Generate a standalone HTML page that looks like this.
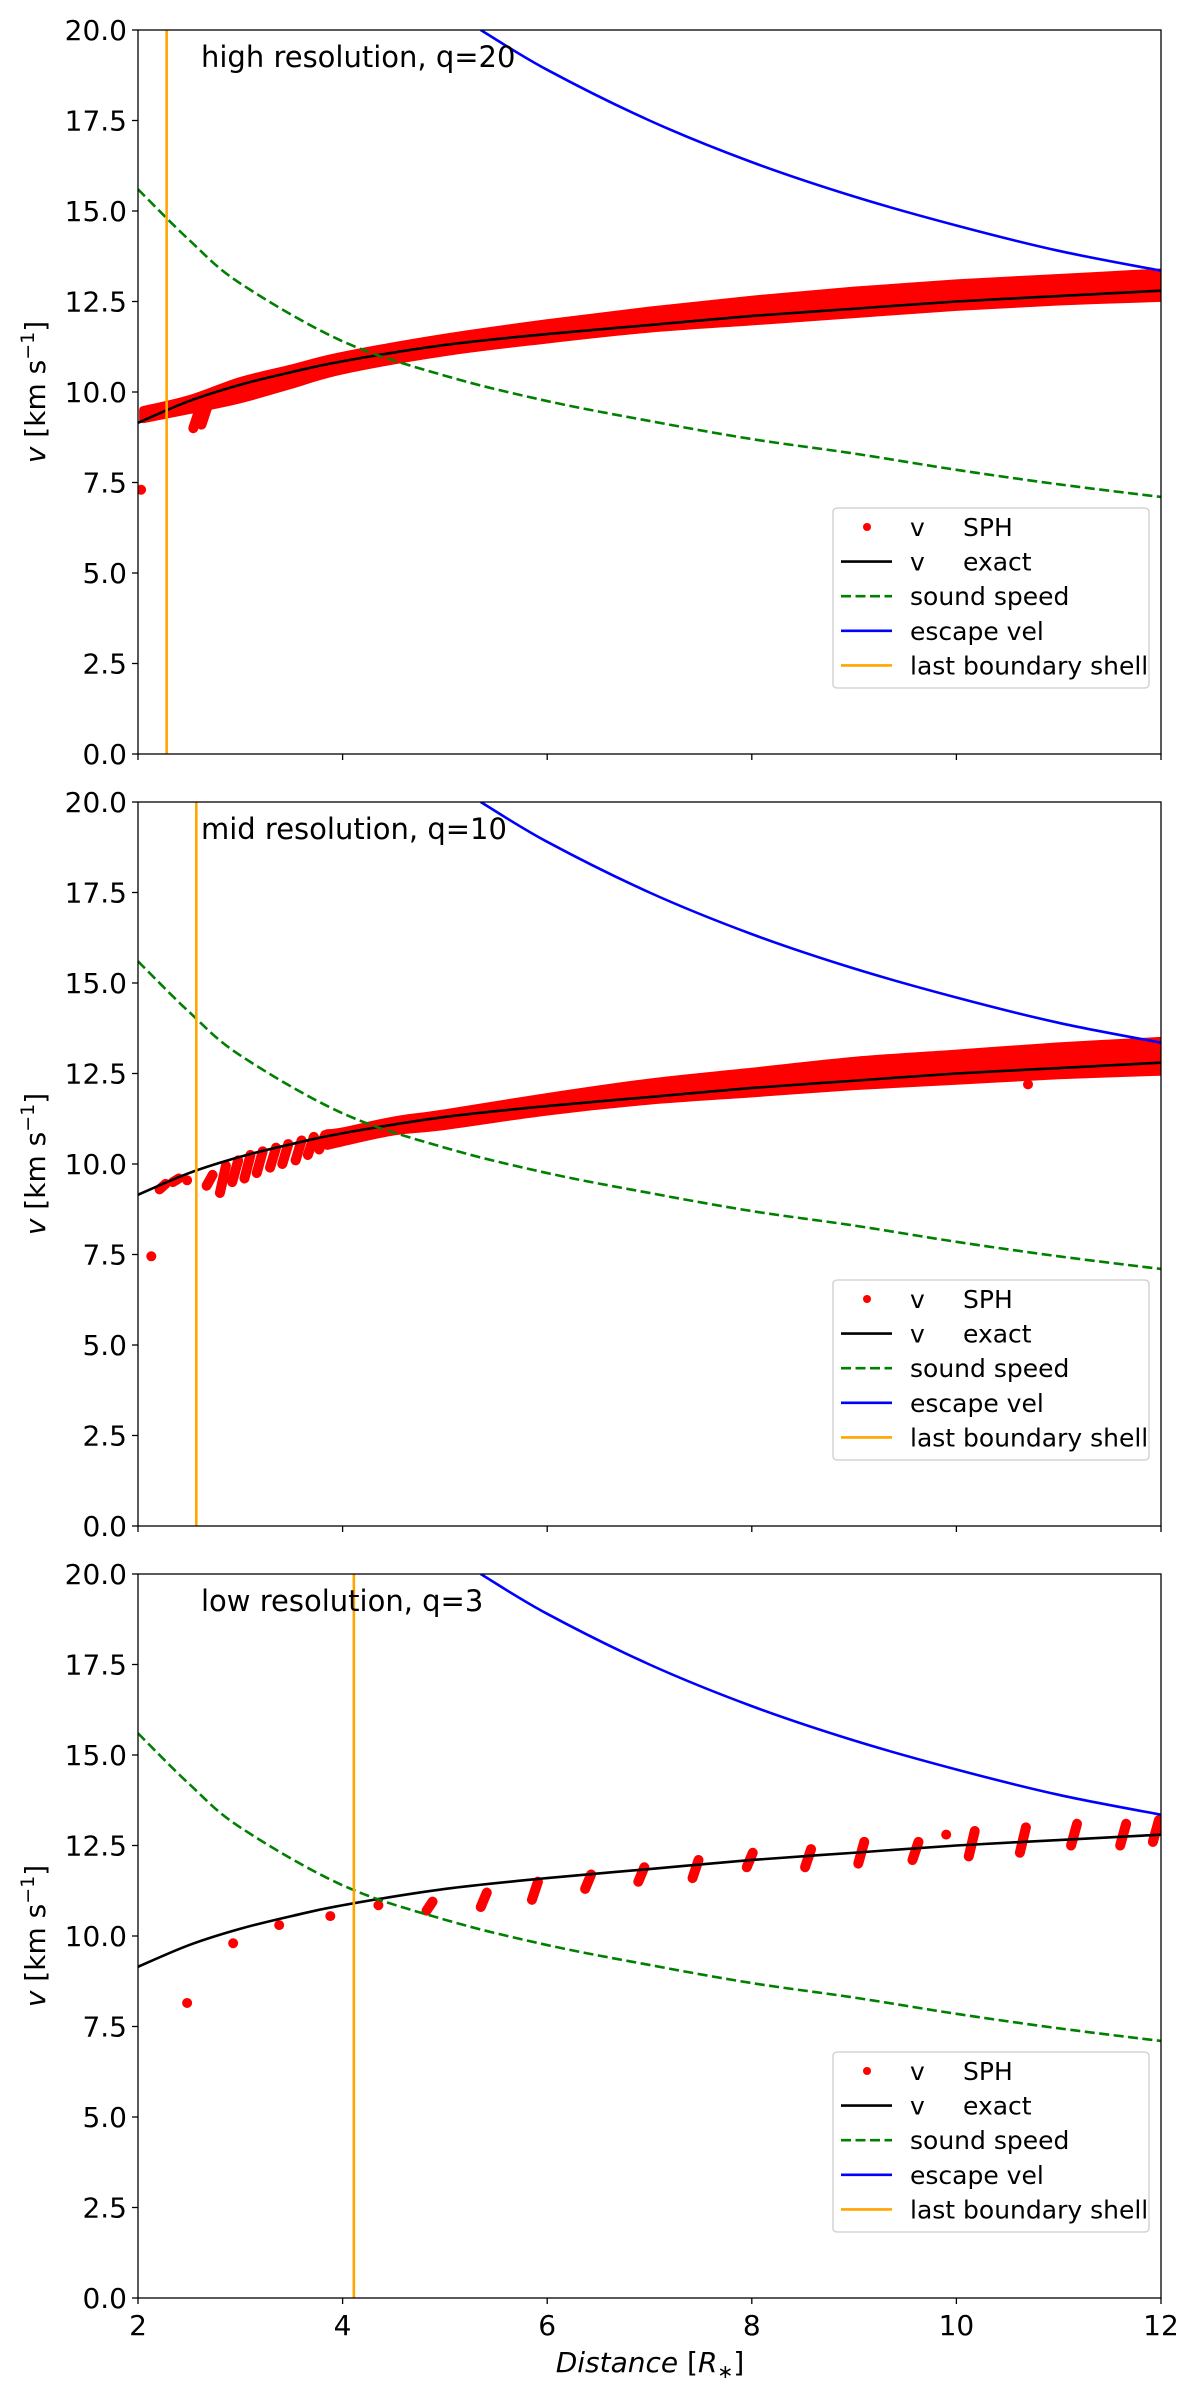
<!DOCTYPE html>
<html><head><meta charset="utf-8"><style>
html,body{margin:0;padding:0;background:#fff}
svg{display:block;font-family:"DejaVu Sans","Liberation Sans",sans-serif}
</style></head><body>
<svg id="fig" width="1200" height="2400" viewBox="0 0 1200 2400" xmlns="http://www.w3.org/2000/svg"></svg>
<script>
// ---- data ----
const xTicks = [2,4,6,8,10,12];
const yTicks = [0,2.5,5,7.5,10,12.5,15,17.5,20];
const exactX = [2,2.5,3,3.5,4,5,6,7,8,9,10,11,12];
const exactV = [9.15,9.75,10.2,10.55,10.85,11.3,11.6,11.85,12.1,12.3,12.5,12.65,12.8];
const soundX = [2,2.5,3,4,5,6,7,8,9,10,11,12];
const soundV = [15.6,14.2,13.0,11.4,10.45,9.75,9.2,8.7,8.3,7.85,7.45,7.1];
const escX = [5.35,6,7,8,9,10,11,12];
const escV = [20,18.9,17.5,16.35,15.4,14.6,13.9,13.35];
const panelTitles = ["high resolution, q=20","mid resolution, q=10","low resolution, q=3"];
const shellX = [2.28,2.57,4.11];
// SPH bands: x, lower, upper
const bandHighX = [2.05,2.5,3,3.5,4,5,6,7,8,9,10,11,12];
const bandHighLo = [9.25,9.5,9.8,10.2,10.6,11.1,11.45,11.75,11.95,12.15,12.35,12.5,12.6];
const bandHighHi = [9.5,9.8,10.3,10.65,11.0,11.5,11.9,12.25,12.55,12.8,13.0,13.15,13.3];
const bandMidX = [3.85,4,4.5,5,6,7,8,9,10,11,12];
const bandMidLo = [10.5,10.6,10.9,11.05,11.45,11.75,11.95,12.15,12.3,12.45,12.55];
const bandMidHi = [10.85,10.9,11.2,11.4,11.85,12.25,12.55,12.85,13.05,13.25,13.4];
// SPH clusters: x, min, max
const highPtsX = [2.03,2.57,2.65]; const highPtsLo=[7.3,9.0,9.1]; const highPtsHi=[7.3,9.5,9.6];
const midPtsX = [2.13,2.24,2.37,2.48,2.7,2.83,2.95,3.07,3.19,3.32,3.44,3.57,3.69,3.8,10.7];
const midPtsLo = [7.45,9.3,9.5,9.55,9.4,9.2,9.5,9.6,9.75,9.9,10.0,10.1,10.25,10.4,12.2];
const midPtsHi = [7.45,9.45,9.6,9.55,9.7,9.95,10.1,10.25,10.35,10.45,10.55,10.65,10.75,10.8,12.2];
const lowPtsX = [2.48,2.93,3.38,3.88,4.35,4.85,5.38,5.88,6.4,6.92,7.45,7.98,8.55,9.07,9.6,9.9,10.15,10.65,11.15,11.63,11.95];
const lowPtsLo = [8.15,9.8,10.3,10.55,10.85,10.7,10.8,11.0,11.3,11.5,11.6,11.9,11.9,12.0,12.1,12.8,12.2,12.3,12.5,12.5,12.6];
const lowPtsHi = [8.15,9.8,10.3,10.55,10.85,10.95,11.2,11.5,11.7,11.9,12.1,12.3,12.4,12.6,12.6,12.8,12.9,13.0,13.1,13.1,13.2];

const NS="http://www.w3.org/2000/svg";
const svg=document.getElementById('fig');
const L=138,R=1161,H=724,tops=[30,802,1574];
function xs(v){return L+(v-2)/10*(R-L);}
function mk(tag,attrs,parent){const e=document.createElementNS(NS,tag);for(const k in attrs)e.setAttribute(k,attrs[k]);(parent||svg).appendChild(e);return e;}
// smooth path through points (Catmull-Rom)
function smooth(P){
  let d='M'+P[0][0]+','+P[0][1];
  for(let i=0;i<P.length-1;i++){
    const p0=P[Math.max(0,i-1)],p1=P[i],p2=P[i+1],p3=P[Math.min(P.length-1,i+2)];
    const c1=[p1[0]+(p2[0]-p0[0])/6,p1[1]+(p2[1]-p0[1])/6];
    const c2=[p2[0]-(p3[0]-p1[0])/6,p2[1]-(p3[1]-p1[1])/6];
    d+=' C'+c1[0]+','+c1[1]+' '+c2[0]+','+c2[1]+' '+p2[0]+','+p2[1];
  }
  return d;
}

tops.forEach((T,pi)=>{
  const ys=v=>T+H-v/20*H;
  const g=mk('g',{});
  
  
  const cp=mk('clipPath',{id:'cp'+pi},g);
  mk('rect',{x:L,y:T,width:R-L,height:H},cp);
  const plot=mk('g',{'clip-path':'url(#cp'+pi+')'},g);
  const bx = pi==0?bandHighX:(pi==1?bandMidX:null);
  if(bx){
    const lo=pi==0?bandHighLo:bandMidLo, hi=pi==0?bandHighHi:bandMidHi;
    const top=bx.map((x,i)=>[xs(x),ys(hi[i])]);
    const bot=bx.map((x,i)=>[xs(x),ys(lo[i])]).reverse();
    const d=smooth(top)+' L'+smooth(bot).slice(1)+'Z';
    const b=mk('path',{d:d,fill:'#ff0000',stroke:'#ff0000','stroke-width':8,'stroke-linejoin':'round'},plot);
    
    
  }
  const px=[highPtsX,midPtsX,lowPtsX][pi], plo=[highPtsLo,midPtsLo,lowPtsLo][pi], phi=[highPtsHi,midPtsHi,lowPtsHi][pi];
  px.forEach((x,i)=>{
    const c=mk('line',{x1:xs(x)-(phi[i]>plo[i]?3:0),y1:ys(plo[i]),x2:xs(x)+(phi[i]>plo[i]?3:0.01),y2:ys(phi[i]),stroke:'#ff0000','stroke-width':10,'stroke-linecap':'round'},plot);
    
    
  });
  const line=(X,V,col,extra,name)=>{const p=mk('path',Object.assign({d:smooth(X.map((x,i)=>[xs(x),ys(V[i])])),fill:'none',stroke:col,'stroke-width':2.6},extra),plot);
    
    };
  line(exactX,exactV,'#000',{},'exact-velocity-line');
  line(soundX,soundV,'#008000',{'stroke-dasharray':'10,4.5'},'sound-speed-line');
  line(escX,escV,'#0000ff',{},'escape-velocity-line');
  const sl=mk('line',{x1:xs(shellX[pi]),x2:xs(shellX[pi]),y1:T,y2:T+H,stroke:'#ffa500','stroke-width':2.6},plot);
  
  
  const fr=mk('rect',{x:L,y:T,width:R-L,height:H,fill:'none',stroke:'#000','stroke-width':1.3},g);
  
  
  yTicks.forEach(v=>{
    mk('line',{x1:L-6,x2:L,y1:ys(v),y2:ys(v),stroke:'#000','stroke-width':1.3},g);
    const t=mk('text',{x:L-11,y:ys(v)+10,'text-anchor':'end','font-size':28},g);
    t.textContent=v.toFixed(1);
    
    
  });
  xTicks.forEach(v=>{
    mk('line',{x1:xs(v),x2:xs(v),y1:T+H,y2:T+H+6,stroke:'#000','stroke-width':1.3},g);
    if(pi==2){const t=mk('text',{x:xs(v),y:T+H+37,'text-anchor':'middle','font-size':28},g);
      t.textContent=v;
      
      }
  });
  const tt=mk('text',{x:201,y:T+37,'font-size':29},g);
  tt.textContent=panelTitles[pi];
  
  
  const yl=mk('text',{transform:'translate(45,'+(T+H/2)+') rotate(-90)','text-anchor':'middle','font-size':28},g);
  yl.innerHTML='<tspan font-style="italic">v</tspan> [km s<tspan font-size="19" dy="-11">−1</tspan><tspan dy="11">]</tspan>';
  
  
  const lg=mk('g',{},g);
  
  
  const LT=T+478;
  mk('rect',{x:833,y:LT,width:316,height:180,rx:4,fill:'#fff','fill-opacity':0.8,stroke:'#ccc','stroke-width':1.3},lg);
  const rows=[['dot','#ff0000','v','SPH'],['line','#000','v','exact'],['dash','#008000','sound speed'],['line','#0000ff','escape vel'],['line','#ffa500','last boundary shell']];
  rows.forEach((r,i)=>{
    const y=LT+19+i*34.6;
    const e=mk('g',{},lg);
    
    
    if(r[0]=='dot') mk('circle',{cx:867,cy:y,r:4,fill:r[1]},e);
    else mk('line',{x1:841,x2:892,y1:y,y2:y,stroke:r[1],'stroke-width':2.6,'stroke-dasharray':r[0]=='dash'?'10,4.5':'none'},e);
    const t=mk('text',{x:910,y:y+9,'font-size':25},e);t.textContent=r[2];
    if(r[3]){const t2=mk('text',{x:963,y:y+9,'font-size':25},e);t2.textContent=r[3];}
  });
});
const xl=mk('text',{x:650,y:2372,'text-anchor':'middle','font-size':28});
xl.innerHTML='<tspan font-style="italic">Distance</tspan> [<tspan font-style="italic">R</tspan><tspan font-size="19" dy="6">∗</tspan><tspan dy="-6">]</tspan>';


</script>
</body></html>
